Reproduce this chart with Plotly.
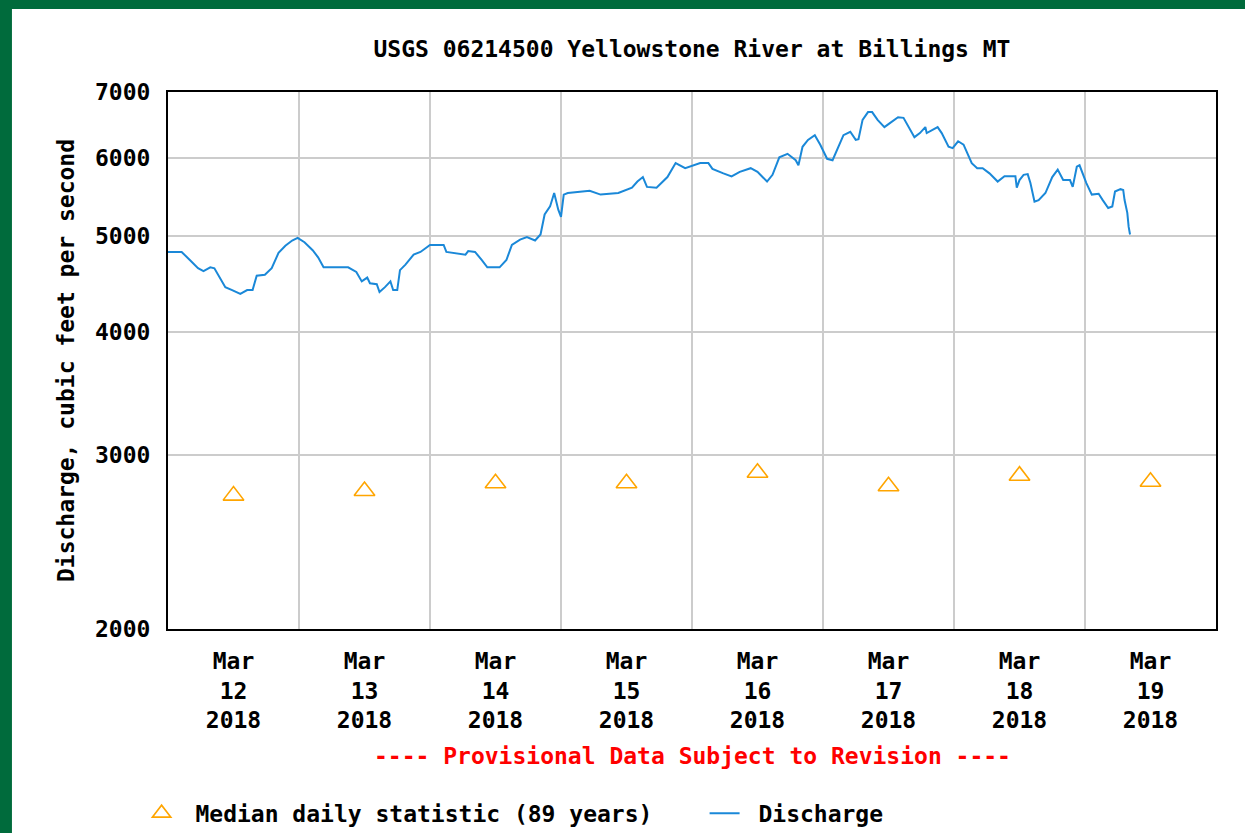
import plotly.graph_objects as go
import math

# ---------------- data ----------------
discharge_time = [
    "2018-03-12 00:00", "2018-03-12 02:30", "2018-03-12 04:00", "2018-03-12 05:30", "2018-03-12 06:30",
    "2018-03-12 07:45", "2018-03-12 08:30", "2018-03-12 09:30", "2018-03-12 10:30", "2018-03-12 11:45",
    "2018-03-12 13:15", "2018-03-12 14:30", "2018-03-12 15:30", "2018-03-12 16:15", "2018-03-12 17:45",
    "2018-03-12 19:00", "2018-03-12 20:15", "2018-03-12 21:30", "2018-03-12 22:45", "2018-03-12 23:45",
    "2018-03-13 01:00", "2018-03-13 02:30", "2018-03-13 03:30", "2018-03-13 04:30", "2018-03-13 09:00",
    "2018-03-13 10:30", "2018-03-13 11:30", "2018-03-13 12:30", "2018-03-13 13:00", "2018-03-13 14:15",
    "2018-03-13 14:45", "2018-03-13 15:45", "2018-03-13 16:45", "2018-03-13 17:15", "2018-03-13 18:00",
    "2018-03-13 18:30", "2018-03-13 19:30", "2018-03-13 21:00", "2018-03-13 22:15", "2018-03-14 00:00",
    "2018-03-14 02:30", "2018-03-14 03:00", "2018-03-14 06:30", "2018-03-14 07:00", "2018-03-14 08:15",
    "2018-03-14 09:30", "2018-03-14 10:30", "2018-03-14 12:45", "2018-03-14 14:00", "2018-03-14 15:00",
    "2018-03-14 16:30", "2018-03-14 17:45", "2018-03-14 19:15", "2018-03-14 20:15", "2018-03-14 21:00",
    "2018-03-14 22:00", "2018-03-14 22:45", "2018-03-14 23:30", "2018-03-15 00:00", "2018-03-15 00:30",
    "2018-03-15 01:15", "2018-03-15 05:15", "2018-03-15 07:15", "2018-03-15 10:30", "2018-03-15 13:00",
    "2018-03-15 14:00", "2018-03-15 15:00", "2018-03-15 15:45", "2018-03-15 17:30", "2018-03-15 19:30",
    "2018-03-15 21:00", "2018-03-15 22:45", "2018-03-16 00:15", "2018-03-16 01:30", "2018-03-16 03:00",
    "2018-03-16 03:45", "2018-03-16 05:45", "2018-03-16 07:15", "2018-03-16 08:45", "2018-03-16 10:45",
    "2018-03-16 12:00", "2018-03-16 13:45", "2018-03-16 14:45", "2018-03-16 16:00", "2018-03-16 17:30",
    "2018-03-16 19:00", "2018-03-16 19:30", "2018-03-16 20:15", "2018-03-16 21:15", "2018-03-16 22:30",
    "2018-03-16 23:30", "2018-03-17 00:45", "2018-03-17 01:45", "2018-03-17 02:30", "2018-03-17 03:45",
    "2018-03-17 05:00", "2018-03-17 06:00", "2018-03-17 06:30", "2018-03-17 07:15", "2018-03-17 08:15",
    "2018-03-17 09:00", "2018-03-17 10:00", "2018-03-17 11:15", "2018-03-17 12:15", "2018-03-17 13:45",
    "2018-03-17 14:45", "2018-03-17 15:30", "2018-03-17 16:45", "2018-03-17 17:45", "2018-03-17 18:45",
    "2018-03-17 19:00", "2018-03-17 20:00", "2018-03-17 21:00", "2018-03-17 21:45", "2018-03-17 23:00",
    "2018-03-17 23:45", "2018-03-18 00:45", "2018-03-18 01:45", "2018-03-18 03:15", "2018-03-18 04:15",
    "2018-03-18 05:15", "2018-03-18 06:30", "2018-03-18 08:00", "2018-03-18 09:15", "2018-03-18 11:15",
    "2018-03-18 11:30", "2018-03-18 12:00", "2018-03-18 12:45", "2018-03-18 13:30", "2018-03-18 14:00",
    "2018-03-18 14:45", "2018-03-18 15:30", "2018-03-18 16:45", "2018-03-18 18:00", "2018-03-18 19:00",
    "2018-03-18 20:00", "2018-03-18 21:15", "2018-03-18 21:45", "2018-03-18 22:30", "2018-03-18 23:00",
    "2018-03-19 00:15", "2018-03-19 01:15", "2018-03-19 02:30", "2018-03-19 03:15", "2018-03-19 04:15",
    "2018-03-19 05:00", "2018-03-19 05:30", "2018-03-19 06:30", "2018-03-19 07:00", "2018-03-19 07:15",
    "2018-03-19 07:45", "2018-03-19 08:00", "2018-03-19 08:15",
]
discharge_cfs = [
    4820, 4820, 4730, 4640, 4610,
    4650, 4640, 4540, 4440, 4410,
    4370, 4410, 4410, 4560, 4570,
    4640, 4810, 4890, 4950, 4980,
    4930, 4840, 4760, 4650, 4650,
    4600, 4500, 4540, 4480, 4470,
    4390, 4440, 4500, 4410, 4410,
    4620, 4680, 4790, 4820, 4900,
    4900, 4820, 4790, 4830, 4820,
    4730, 4650, 4650, 4730, 4900,
    4960, 4990, 4950, 5020, 5260,
    5360, 5530, 5320, 5230, 5510,
    5530, 5560, 5510, 5530, 5600,
    5680, 5740, 5610, 5600, 5740,
    5930, 5860, 5900, 5930, 5930,
    5850, 5790, 5750, 5810, 5860,
    5810, 5680, 5770, 6010, 6060,
    5970, 5900, 6160, 6260, 6330,
    6190, 5990, 5970, 6110, 6330,
    6380, 6260, 6270, 6560, 6680,
    6680, 6560, 6450, 6510, 6600,
    6590, 6480, 6300, 6360, 6450,
    6360, 6410, 6450, 6360, 6160,
    6140, 6240, 6190, 5930, 5860,
    5860, 5790, 5680, 5750, 5750,
    5600, 5700, 5770, 5780, 5660,
    5420, 5440, 5530, 5740, 5840,
    5700, 5700, 5610, 5880, 5900,
    5660, 5510, 5520, 5440, 5340,
    5360, 5550, 5580, 5570, 5440,
    5280, 5110, 5020,
]

median_time = ["2018-03-12 12:00", "2018-03-13 12:00", "2018-03-14 12:00", "2018-03-15 12:00",
               "2018-03-16 12:00", "2018-03-17 12:00", "2018-03-18 12:00", "2018-03-19 12:00"]
median_cfs = [2730, 2760, 2810, 2810, 2880, 2790, 2860, 2820]

x_tick_vals = median_time
x_tick_text = ["Mar<br>12<br>2018", "Mar<br>13<br>2018", "Mar<br>14<br>2018", "Mar<br>15<br>2018",
               "Mar<br>16<br>2018", "Mar<br>17<br>2018", "Mar<br>18<br>2018", "Mar<br>19<br>2018"]
y_tick_vals = [2000, 3000, 4000, 5000, 6000, 7000]
y_tick_text = ["2000", "3000", "4000", "5000", "6000", "7000"]

# ---------------- style ----------------
FONT = dict(family="DejaVu Sans Mono", size=23, color="black", weight="bold")
GREEN = "#006B3C"
GRID = "#CCCCCC"

fig = go.Figure()
fig.add_trace(go.Scatter(
    x=median_time, y=median_cfs, mode="markers",
    name=" Median daily statistic (89 years)",
    marker=dict(symbol="triangle-up-open", size=18, color="#FFA500", line=dict(width=1.6, color="#FFA500")),
))
fig.add_trace(go.Scatter(
    x=discharge_time, y=discharge_cfs, mode="lines", name=" Discharge",
    line=dict(color="#1A88D8", width=2),
))

fig.update_layout(
    width=1245, height=833, autosize=False,
    margin=dict(l=168, r=29, t=92, b=204, autoexpand=False),
    paper_bgcolor="white", plot_bgcolor="white",
    font=FONT,
    title=dict(text="USGS 06214500 Yellowstone River at Billings MT", font=FONT,
               x=0.5, xref="paper", xanchor="center", y=1 - 49 / 833, yanchor="middle"),
    showlegend=True,
    legend=dict(orientation="h", x=-0.0252, xanchor="left", y=-0.343, yanchor="middle",
                font=FONT, bgcolor="rgba(0,0,0,0)", entrywidth=518, entrywidthmode="pixels"),
    annotations=[dict(text="---- Provisional Data Subject to Revision ----", xref="paper", yref="paper",
                      x=0.5, y=-0.2365, xanchor="center", yanchor="middle", showarrow=False,
                      font=dict(family="DejaVu Sans Mono", size=23, color="#FF0000", weight="bold"))],
    shapes=[
        dict(type="rect", xref="paper", yref="paper", x0=-0.2, x1=-0.1489, y0=-0.4, y1=1.2,
             fillcolor=GREEN, line=dict(width=0)),
        dict(type="rect", xref="paper", yref="paper", x0=-0.2, x1=1.1, y0=1.1546, y1=1.2,
             fillcolor=GREEN, line=dict(width=0)),
    ],
)

fig.update_xaxes(
    type="date", range=["2018-03-12 00:00", "2018-03-20 00:00"],
    tickmode="array", tickvals=x_tick_vals, ticktext=x_tick_text,
    showgrid=False, ticks="", ticklabelstandoff=10,
    minor=dict(dtick=86400000, tick0="2018-03-12", showgrid=True, gridcolor=GRID, gridwidth=2, ticks=""),
    showline=True, linecolor="black", linewidth=2, mirror=True, zeroline=False,
    tickfont=FONT,
)
fig.update_yaxes(
    type="log", range=[math.log10(2000), math.log10(7000)],
    tickmode="array", tickvals=y_tick_vals, ticktext=y_tick_text,
    showgrid=True, gridcolor=GRID, gridwidth=2, ticks="", ticklabelstandoff=11,
    showline=True, linecolor="black", linewidth=2, mirror=True, zeroline=False,
    tickfont=FONT,
    title=dict(text="Discharge, cubic feet per second", font=FONT, standoff=14),
)

fig.write_html("out.html", post_script="document.body.style.margin='0px';",
               config={"displayModeBar": False})
